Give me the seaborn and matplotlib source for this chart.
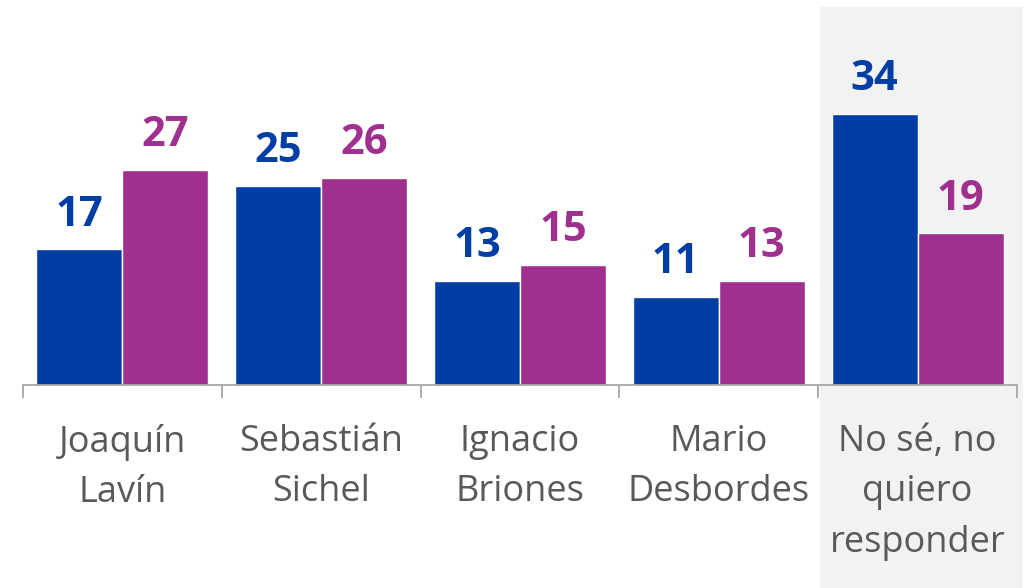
import pandas as pd
import seaborn as sns
import matplotlib.pyplot as plt
from matplotlib.patches import Rectangle
from matplotlib.transforms import blended_transform_factory

candidatos = ["Joaquín\nLavín", "Sebastián\nSichel", "Ignacio\nBriones",
              "Mario\nDesbordes", "No sé, no\nquiero\nresponder"]
serie_a = [17, 25, 13, 11, 34]
serie_b = [27, 26, 15, 13, 19]
series = ["A", "B"]
colores = {"A": "#003DA5", "B": "#A0308F"}

df = pd.DataFrame({
    "candidato": candidatos * 2,
    "serie": [series[0]] * 5 + [series[1]] * 5,
    "valor": serie_a + serie_b,
})

sns.set_style("white")
plt.rcParams["font.family"] = ["Open Sans", "DejaVu Sans"]

fig = plt.figure(figsize=(10.33, 5.88), dpi=100)
ax = fig.add_axes([23 / 1033, 203 / 588, 994 / 1033, 378 / 588])
ax.patch.set_visible(False)

sns.barplot(data=df, x="candidato", y="valor", hue="serie", palette=colores,
            width=0.865, saturation=1, legend=False, ax=ax, zorder=2)

for cont, s in zip(ax.containers, series):
    ax.bar_label(cont, padding=10, fontsize=30, fontweight="bold", color=colores[s])

ax.set_ylim(0, 47.4)
ax.set_xlim(-0.5, 4.5)
ax.set_xlabel("")
ax.set_ylabel("")
ax.set_yticks([])
for side in ["top", "right", "left"]:
    ax.spines[side].set_visible(False)
ax.spines["bottom"].set_color("#A6A6A6")
ax.spines["bottom"].set_linewidth(1.3)

ax.set_xticks([-0.5, 0.5, 1.5, 2.5, 3.5, 4.5], minor=True)
ax.tick_params(axis="x", which="minor", length=9.5, width=1.3, color="#A6A6A6", bottom=True)
ax.tick_params(axis="x", which="major", length=0, pad=28, labelsize=26, labelcolor="#595959")
for lbl in ax.get_xticklabels():
    lbl.set_linespacing(1.53)

# fondo gris de la última categoría
tr = blended_transform_factory(ax.transData, fig.transFigure)
fig.patches.append(Rectangle((3.51, 0), 1.02, 581 / 588, transform=tr,
                             facecolor="#F2F2F2", edgecolor="none", zorder=-1))

fig.savefig("out.png", dpi=100)
